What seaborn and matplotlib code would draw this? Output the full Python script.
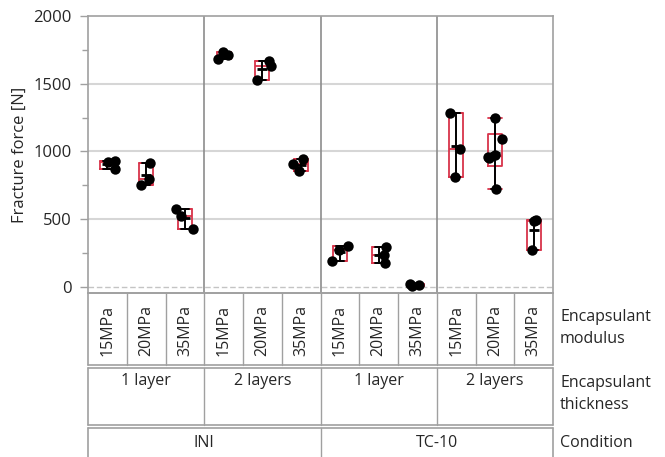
import numpy as np
import pandas as pd
import matplotlib
matplotlib.use("Agg")
import matplotlib.pyplot as plt
import matplotlib.transforms as mtransforms
import seaborn as sns

# ---- data -------------------------------------------------------------
conditions = ["INI", "TC-10"]
thicknesses = ["1 layer", "2 layers"]
moduli = ["15MPa", "20MPa", "35MPa"]

# Fracture force [N]; one list of specimens per encapsulant modulus
ini_1layer = [[930, 925, 872], [915, 800, 755], [430, 575, 520]]
ini_2layers = [[1735, 1715, 1680], [1670, 1630, 1530], [945, 905, 855]]
tc10_1layer = [[190, 300, 275], [295, 235, 180], [8, 18, 14]]
tc10_2layers = [[1285, 1020, 815], [1250, 1090, 975, 960, 950, 725], [485, 495, 275]]

blocks = {
    ("INI", "1 layer"): ini_1layer,
    ("INI", "2 layers"): ini_2layers,
    ("TC-10", "1 layer"): tc10_1layer,
    ("TC-10", "2 layers"): tc10_2layers,
}

rows = []
order = []
for c in conditions:
    for t in thicknesses:
        for m, vals in zip(moduli, blocks[(c, t)]):
            key = f"{c} | {t} | {m}"
            order.append(key)
            for v in vals:
                rows.append({"group": key, "Condition": c, "Thickness": t,
                             "Modulus": m, "Force": v})
df = pd.DataFrame(rows)

# ---- style ------------------------------------------------------------
sns.set_style("white")
plt.rcParams["font.family"] = ["Open Sans", "DejaVu Sans"]
TXT = "#262626"
FRAME = "#a0a0a0"
RED = "#d8344a"
FS = 11.5

W, H = 665, 457
fig = plt.figure(figsize=(W / 100, H / 100), dpi=100)
x0, x1, y0, y1 = 88, 553, 16, 293
ax = fig.add_axes([x0 / W, 1 - y1 / H, (x1 - x0) / W, (y1 - y0) / H])

# ---- boxes (quartiles with (n+1)p positions) --------------------------
stats = []
for key in order:
    v = np.sort(df.loc[df.group == key, "Force"].to_numpy(dtype=float))
    q1, med, q3 = np.quantile(v, [0.25, 0.5, 0.75], method="weibull")
    iqr = q3 - q1
    lo = v[v >= q1 - 1.5 * iqr].min()
    hi = v[v <= q3 + 1.5 * iqr].max()
    stats.append(dict(med=med, q1=q1, q3=q3, whislo=lo, whishi=hi, fliers=[]))

red_line = dict(color=RED, linewidth=1.3)
ax.bxp(stats, positions=np.arange(len(order)), widths=0.36,
       capwidths=0.36, showfliers=False, patch_artist=False,
       boxprops=red_line, medianprops=red_line,
       whiskerprops=red_line, capprops=red_line, zorder=2)

# ---- points -----------------------------------------------------------
np.random.seed(4)
sns.stripplot(data=df, x="group", y="Force", order=order, color="black",
              size=7.5, jitter=0.22, linewidth=0, ax=ax, zorder=3)

# ---- range bars with mean tick ---------------------------------------
sns.pointplot(data=df, x="group", y="Force", order=order, color="black",
              estimator="mean", errorbar=("pi", 100), capsize=0.2,
              markers="_", linestyles="none", markersize=7,
              err_kws={"linewidth": 1.4}, ax=ax, zorder=4)

# ---- axes -------------------------------------------------------------
ax.set_xlim(-0.5, len(order) - 0.5)
ax.set_ylim(-45, 2000)
ax.set_xticks([])
ax.set_xlabel("")
ax.set_yticks([0, 500, 1000, 1500, 2000])
ax.set_yticks(np.arange(250, 2000, 500), minor=True)
ax.tick_params(axis="y", which="major", left=True, length=6, width=1,
               color=FRAME, labelsize=12, labelcolor=TXT, pad=6)
ax.tick_params(axis="y", which="minor", left=True, length=4, width=1,
               color=FRAME)
ax.set_ylabel("Fracture force [N]", fontsize=12, color=TXT)
ax.yaxis.set_label_coords(-0.13, 0.5)
for s in ax.spines.values():
    s.set_color(FRAME)
    s.set_linewidth(1.2)

for yv in (500, 1000, 1500):
    ax.axhline(yv, color="#d6d6d6", linewidth=1.5, zorder=0)
ax.axhline(0, color="#c4c4c4", linewidth=1, linestyle=(0, (4, 2)), zorder=0)
for xv in (2.5, 5.5, 8.5):
    ax.axvline(xv, color="#8c8c8c", linewidth=1.2, zorder=1)

# ---- nested category table -------------------------------------------
tax = fig.add_axes([x0 / W, 0, (x1 - x0) / W, 1 - y1 / H])
tax.set_xlim(-0.5, len(order) - 0.5)
tax.set_ylim(H, y1)
tax.axis("off")
L, R = -0.5, len(order) - 0.5
row_spans = [(y1, 365), (368, 425), (428, H + 5)]
seps = [np.arange(0.5, 11, 1.0), [2.5, 5.5, 8.5], [5.5]]
for (top, bot), sx in zip(row_spans, seps):
    tax.plot([L, R], [top, top], color=FRAME, lw=1.2, clip_on=False)
    tax.plot([L, R], [bot, bot], color=FRAME, lw=1.2, clip_on=False)
    for xv in [L, R]:
        tax.plot([xv, xv], [top, bot], color=FRAME, lw=1.2, clip_on=False)
    for xv in sx:
        tax.plot([xv, xv], [top, bot], color=FRAME, lw=1, clip_on=False)

for i, key in enumerate(order):
    tax.text(i, 331, key.split(" | ")[2], rotation=90, ha="center",
             va="center", fontsize=FS, color=TXT)
for j, (c, t) in enumerate([(c, t) for c in conditions for t in thicknesses]):
    tax.text(3 * j + 1, 381, t, ha="center", va="center", fontsize=FS,
             color=TXT)
for j, c in enumerate(conditions):
    tax.text(6 * j + 2.5, 443, c, ha="center", va="center", fontsize=FS,
             color=TXT)

side = mtransforms.blended_transform_factory(tax.transAxes, tax.transData)
xs = (560 - x0) / (x1 - x0)
tax.text(xs, 328, "Encapsulant\nmodulus", transform=side, ha="left",
         va="center", fontsize=FS, color=TXT, linespacing=1.45)
tax.text(xs, 394, "Encapsulant\nthickness", transform=side, ha="left",
         va="center", fontsize=FS, color=TXT, linespacing=1.45)
tax.text(xs, 443, "Condition", transform=side, ha="left", va="center",
         fontsize=FS, color=TXT)

fig.savefig("out.png", dpi=100)
